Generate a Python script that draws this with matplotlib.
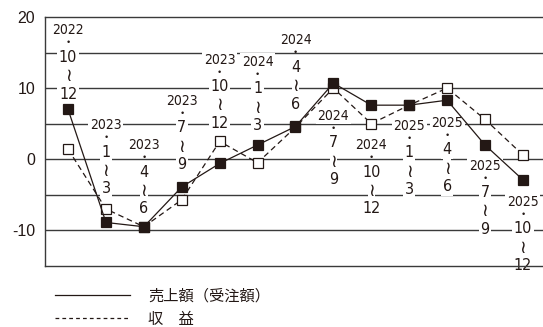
import matplotlib
matplotlib.use('Agg')
import matplotlib.pyplot as plt
from matplotlib.lines import Line2D

# quarter labels
years = ['2022', '2023', '2023', '2023', '2023', '2024', '2024',
         '2024', '2024', '2025', '2025', '2025', '2025']
month_from = ['10', '1', '4', '7', '10', '1', '4', '7', '10', '1', '4', '7', '10']
month_to = ['12', '3', '6', '9', '12', '3', '6', '9', '12', '3', '6', '9', '12']

# series values (%)
sales = [7.0, -8.9, -9.5, -3.9, -0.6, 2.0, 4.6, 10.7, 7.6, 7.6, 8.3, 2.0, -2.9]
profit = [1.4, -7.0, -9.5, -5.7, 2.5, -0.5, 4.5, 10.0, 5.0, 7.6, 10.0, 5.6, 0.6]

# where the first month of each quarter label sits (data units)
label_y = [14.3, 1.0, -1.8, 4.4, 10.2, 9.9, 12.9, 2.3, -1.8, 0.9, 1.3, -4.7, -9.8]

ink = '#231815'
grid_c = '#3a3a3a'
narrow = ['Liberation Sans Narrow', 'DejaVu Sans']

plt.rcParams['axes.unicode_minus'] = False
plt.rcParams['font.family'] = ['Liberation Sans', 'DejaVu Sans']

fig = plt.figure(figsize=(5.43, 3.27), dpi=100)
ax = fig.add_axes([0.083, 0.187, 0.917, 0.761])

x = list(range(len(sales)))
ax.set_xlim(-0.607, 12.53)
ax.set_ylim(-15, 20)

for g in [15, 10, 5, 0, -5, -10]:
    ax.axhline(g, color=grid_c, lw=1.0, zorder=1)

for s in ['left', 'top', 'bottom']:
    ax.spines[s].set_color(grid_c)
    ax.spines[s].set_linewidth(1.0)
ax.spines['right'].set_visible(False)

ax.set_xticks([])
ax.set_yticks([20, 10, 0, -10])
ax.tick_params(axis='y', length=0, pad=7, labelsize=11.5, labelcolor=ink)

# quarter labels, white box so gridlines break around them
box = dict(facecolor='white', edgecolor='none', pad=1.2)
for i in x:
    y0 = label_y[i]
    ax.annotate(years[i], (i, y0), xytext=(0, 19.5), textcoords='offset points',
                ha='center', va='center', fontsize=10, family=narrow,
                stretch='condensed', color=ink, bbox=box, zorder=2)
    ax.annotate('•', (i, y0), xytext=(0, 10.5), textcoords='offset points',
                ha='center', va='center', fontsize=6.5, color=ink, zorder=2)
    ax.annotate(month_from[i], (i, y0), xytext=(0, 0), textcoords='offset points',
                ha='center', va='center', fontsize=11.5, family=narrow,
                stretch='condensed', color=ink, bbox=box, zorder=2)
    ax.annotate('≀', (i, y0), xytext=(0, -13.5), textcoords='offset points',
                ha='center', va='center', fontsize=13, family=['DejaVu Sans'],
                color=ink, bbox=dict(facecolor='white', edgecolor='none', pad=0.3),
                zorder=2)
    ax.annotate(month_to[i], (i, y0), xytext=(0, -26.5), textcoords='offset points',
                ha='center', va='center', fontsize=11.5, family=narrow,
                stretch='condensed', color=ink, bbox=box, zorder=2)

ax.plot(x, profit, color=ink, lw=0.9, ls=(0, (4.5, 3)), marker='s', ms=6.5,
        mfc='white', mec=ink, mew=0.9, zorder=4)
ax.plot(x, sales, color=ink, lw=0.9, ls='-', marker='s', ms=6.5,
        mfc=ink, mec=ink, mew=0.9, zorder=5)

# legend below the plot
h_sales = Line2D([], [], color=ink, lw=0.9)
h_profit = Line2D([], [], color=ink, lw=0.9, ls=(0, (3, 2.5)))
leg = fig.legend([h_sales, h_profit], ['売上額（受注額）', '収　益'],
                 loc='upper left', bbox_to_anchor=(0.101, 0.12),
                 frameon=False, handlelength=4.9, handletextpad=1.2,
                 labelspacing=0.38, borderpad=0, borderaxespad=0,
                 prop={'family': ['Noto Sans CJK JP', 'DejaVu Sans'], 'size': 11})
for t in leg.get_texts():
    t.set_color(ink)

fig.savefig('out.png', dpi=100)
